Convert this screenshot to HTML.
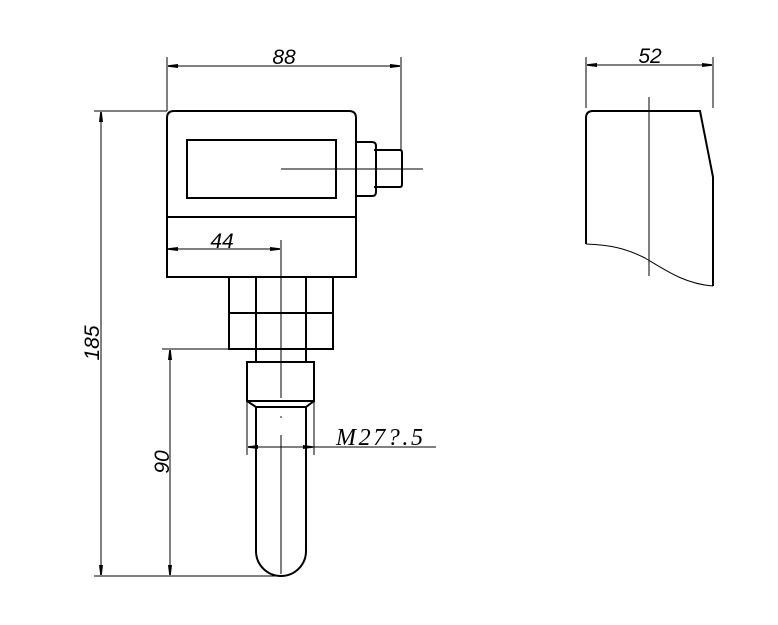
<!DOCTYPE html>
<html><head><meta charset="utf-8"><style>html,body{margin:0;padding:0;background:#fff}svg{display:block}</style></head>
<body>
<svg width="778" height="625" viewBox="0 0 778 625" xmlns="http://www.w3.org/2000/svg">
<defs>
<marker id="a" viewBox="0 0 10 4" refX="10" refY="2" markerWidth="10" markerHeight="4" markerUnits="userSpaceOnUse" orient="auto-start-reverse"><path d="M0,0 L10,1.2 L10,2.8 L0,4 Z" fill="#000"/></marker>
</defs>
<g fill="none" stroke="#000" stroke-width="1">
<line x1="167" y1="57" x2="167" y2="111"/>
<line x1="401" y1="57" x2="401" y2="150"/>
<line x1="168" y1="66" x2="400" y2="66" marker-start="url(#a)" marker-end="url(#a)"/>
<line x1="94" y1="111" x2="167" y2="111"/>
<line x1="94" y1="576" x2="281" y2="576"/>
<line x1="101" y1="112" x2="101" y2="575" marker-start="url(#a)" marker-end="url(#a)"/>
<line x1="162" y1="349" x2="229" y2="349"/>
<line x1="170" y1="350" x2="170" y2="575" marker-start="url(#a)" marker-end="url(#a)"/>
<line x1="168" y1="249" x2="280" y2="249" marker-start="url(#a)" marker-end="url(#a)"/>
<line x1="281" y1="240" x2="281" y2="398"/>
<line x1="281" y1="435" x2="281" y2="574"/>
<line x1="281" y1="169" x2="423" y2="169"/>
<line x1="247" y1="401" x2="247" y2="455"/>
<line x1="314" y1="401" x2="314" y2="455"/>
<line x1="248" y1="447" x2="436" y2="447"/>
<line x1="263" y1="447" x2="248" y2="447" marker-end="url(#a)"/>
<line x1="299" y1="447" x2="313" y2="447" marker-end="url(#a)"/>
<line x1="586" y1="57" x2="586" y2="108"/>
<line x1="713" y1="57" x2="713" y2="108"/>
<line x1="587" y1="65" x2="712" y2="65" marker-start="url(#a)" marker-end="url(#a)"/>
<line x1="649" y1="97" x2="649" y2="276"/>
<path d="M586,244 C610,245 625,248 645,258 C665,270 685,284 713,286"/>
</g>
<circle cx="281" cy="417" r="0.8" fill="#000"/>
<g fill="none" stroke="#000" stroke-width="2">
<path d="M167,277 L167,118 Q167,111 174,111 L349,111 Q356,111 356,118 L356,277 Z"/>
<line x1="167" y1="217" x2="356" y2="217"/>
<rect x="187" y="140" width="149" height="58"/>
<path d="M356,142 L372,142 Q376,142 376,146 L376,192 Q376,196 372,196 L356,196"/>
<path d="M374,150 L400,150 Q402,150 402,153 L402,184 Q402,187 400,187 L374,187"/>
<rect x="229" y="277" width="104" height="72"/>
<line x1="229" y1="313" x2="333" y2="313"/>
<line x1="256" y1="277" x2="256" y2="362"/>
<line x1="306" y1="277" x2="306" y2="362"/>
<rect x="247" y="362" width="67" height="39"/>
<path d="M247,401 L256,407 L306,407 L314,401"/>
<path d="M256,407 L256,551 A25,25 0 0 0 306,551 L306,407"/>
<path d="M586,244 L586,118 Q586,111 593,111 L700,111 L713,177 L713,286"/>
</g>
<g font-family="Liberation Sans, sans-serif" font-style="italic" font-size="21" fill="#000">
<text x="284" y="64" text-anchor="middle">88</text>
<text x="650" y="63" text-anchor="middle">52</text>
<text x="222" y="248" text-anchor="middle">44</text>
<text x="336" y="445" font-family="Liberation Serif, serif" font-size="24" letter-spacing="2" textLength="89">M27?.5</text>
<text transform="translate(99,343) rotate(-90)" text-anchor="middle">185</text>
<text transform="translate(169,462) rotate(-90)" text-anchor="middle">90</text>
</g>
</svg>
</body></html>
